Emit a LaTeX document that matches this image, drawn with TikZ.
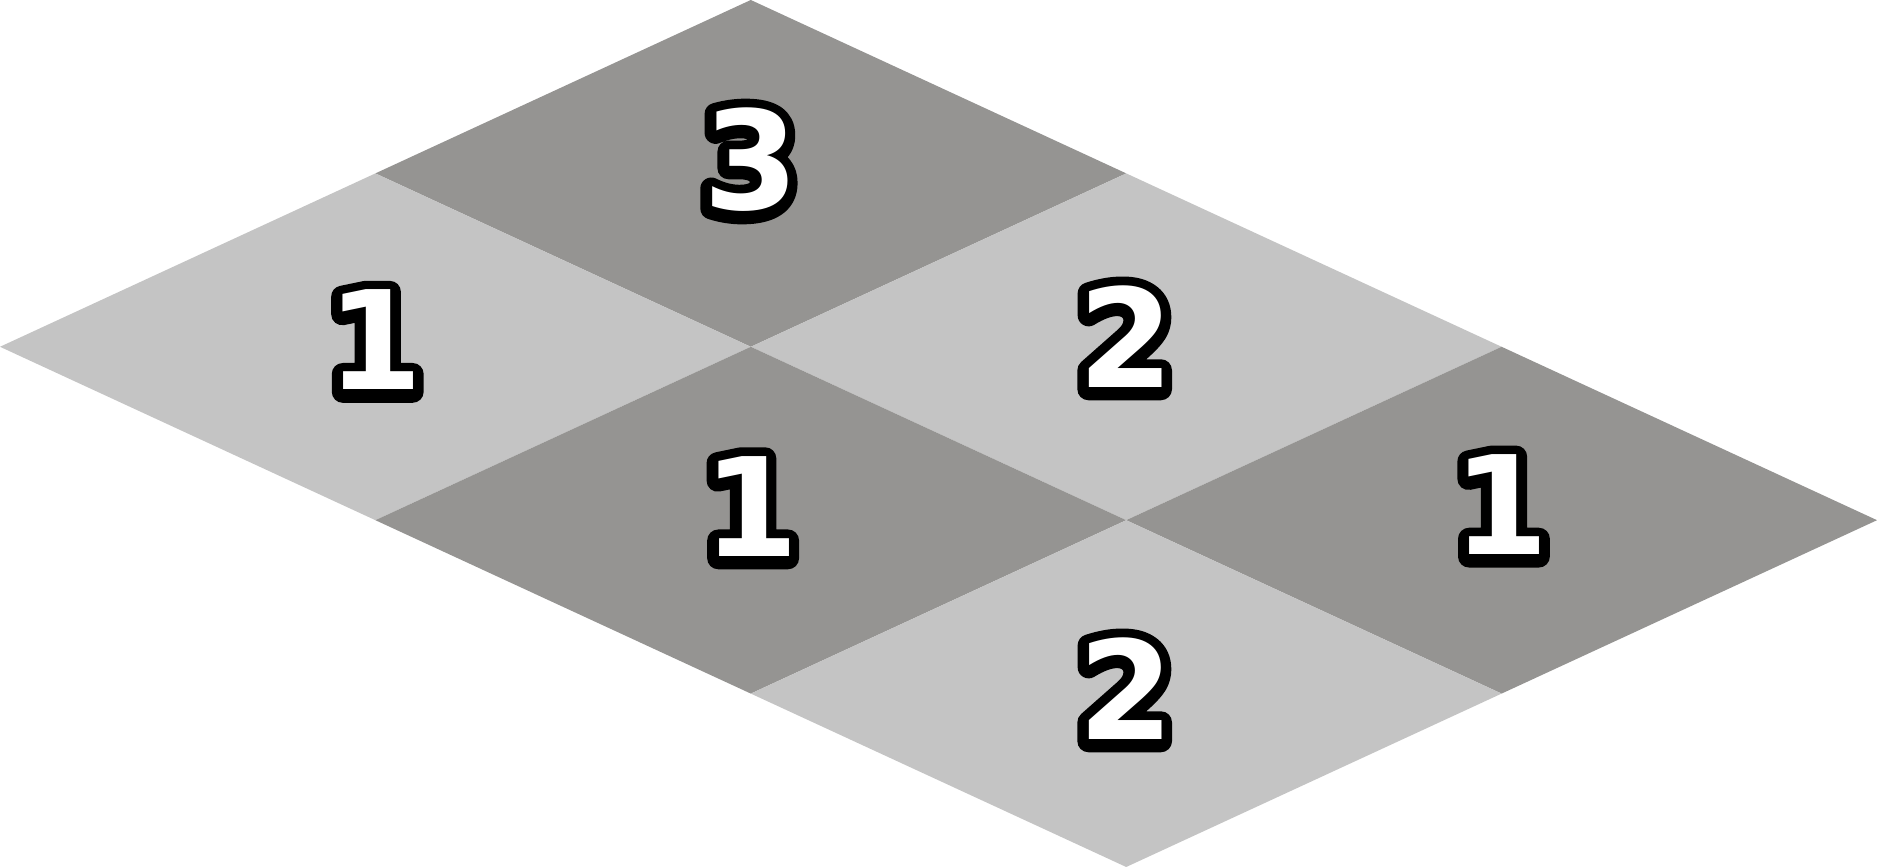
\documentclass[tikz,border=0pt]{standalone}
\usepackage{fontspec}
\setmainfont{DejaVu Sans}
\newfontfamily\numfont{DejaVu Sans Bold}
\newfontfamily\numrim{DejaVu Sans Bold}[FakeBold=16]
\usepackage{tikz}
\usetikzlibrary{positioning}
\definecolor{tiledark}{RGB}{149,148,146}
\definecolor{tilelight}{RGB}{196,196,196}
\tikzstyle{darktile} = [fill=tiledark]
\tikzstyle{lighttile} = [fill=tilelight]
\tikzstyle{numfront} = [font=\numfont\fontsize{39}{39}\selectfont, text=white, inner sep=0pt]
\tikzstyle{numback} = [font=\numrim\fontsize{39}{39}\selectfont, text=black, inner sep=0pt, line join=round, xshift=-0.01cm, yshift=-0.02cm]

\begin{document}
\begin{tikzpicture}[x=3.754cm, y=1.734cm]
        \useasboundingbox (0,0) rectangle (5,5);

        % Kacheln
        \foreach \cx/\cy/\tone in {2/4/darktile, 1/3/lighttile, 3/3/lighttile, 2/2/darktile, 4/2/darktile, 3/1/lighttile}
            \fill[style=\tone] ({\cx-1},\cy) -- (\cx,{\cy+1}) -- ({\cx+1},\cy) -- (\cx,{\cy-1}) -- cycle;

        % Zahlen (schwarzer Rand, dann weiss)
        \begin{scope}[line join=round]
        \foreach \nm/\nx/\ny/\dig in {numtop/2/4.08/3, numleft/1/3.04/1, numright/3/3.06/2, nummid/2/2.08/1, numfar/4/2.09/1, numbottom/3/1.03/2} {
            \node (\nm back) [numback] at (\nx,\ny) {\dig};
            \node (\nm) [numfront] at (\nx,\ny) {\dig};
        }
        \end{scope}
    \end{tikzpicture}
\end{document}
